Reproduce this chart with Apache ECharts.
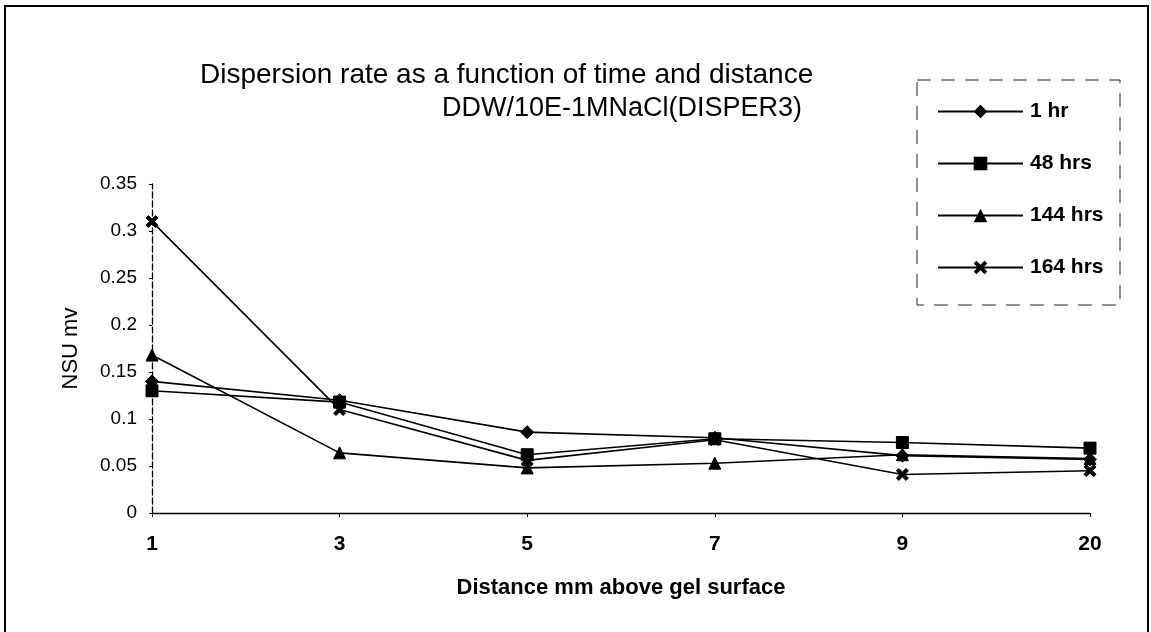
<!DOCTYPE html>
<html>
<head>
<meta charset="utf-8">
<script src="https://cdn.jsdelivr.net/npm/echarts@6/dist/echarts.min.js"></script>
<style>
  html, body { margin: 0; padding: 0; background: #fff; }
  #chart { width: 1151px; height: 632px; }
</style>
</head>
<body>
<div id="chart"></div>
<script>
// Distance above the gel surface (mm)
const distances = ['1', '3', '5', '7', '9', '20'];

// NSU readings (mv) for each elapsed time
const hr1 = [0.14, 0.12, 0.086, 0.08, 0.061, 0.057];
const hrs48 = [0.13, 0.118, 0.062, 0.079, 0.075, 0.069];
const hrs144 = [0.168, 0.064, 0.048, 0.053, 0.062, 0.058];
const hrs164 = [0.31, 0.11, 0.056, 0.078, 0.041, 0.045];

const seriesNames = ['1 hr', '48 hrs', '144 hrs', '164 hrs'];

const crossSymbol = 'path://M0,2 L2,0 L5,3 L8,0 L10,2 L7,5 L10,8 L8,10 L5,7 L2,10 L0,8 L3,5 Z';

const font = '"Liberation Sans", Arial, sans-serif';
const narrow = '"Liberation Sans Narrow", "Liberation Sans", Arial, sans-serif';

function makeSeries(name, data, symbol, size) {
  return {
    name: name,
    type: 'line',
    data: data,
    symbol: symbol,
    symbolSize: size,
    showAllSymbol: true,
    lineStyle: { color: '#000', width: 1.6 },
    itemStyle: { color: '#000', borderColor: '#000' },
    emphasis: { disabled: true },
    animation: false
  };
}

const chart = echarts.init(document.getElementById('chart'), null, { renderer: 'canvas' });

chart.setOption({
  backgroundColor: '#fff',
  animation: false,
  title: [
    {
      text: 'Dispersion rate as a function of time and distance',
      left: 195,
      top: 56,
      textStyle: { fontFamily: font, fontSize: 28, fontWeight: 'normal', color: '#000' }
    },
    {
      text: 'DDW/10E-1MNaCl(DISPER3)',
      right: 1151 - 807,
      top: 90,
      textStyle: { fontFamily: font, fontSize: 27, fontWeight: 'normal', color: '#000' }
    }
  ],
  legend: {
    orient: 'vertical',
    left: 932,
    top: 96,
    itemWidth: 85,
    itemHeight: 17,
    itemGap: 31,
    data: seriesNames,
    textStyle: { fontFamily: narrow, fontSize: 21, fontWeight: 'bold', color: '#000', padding: [0, 0, 0, 2] },
    selectedMode: false
  },
  grid: { left: 152, right: 61, top: 184, bottom: 119, containLabel: false },
  xAxis: {
    type: 'category',
    data: distances,
    boundaryGap: false,
    name: 'Distance mm above gel surface',
    nameLocation: 'middle',
    nameGap: 64,
    nameTextStyle: { fontFamily: narrow, fontSize: 22, fontWeight: 'bold', color: '#000' },
    axisLine: { lineStyle: { color: '#000', width: 1.3 } },
    axisTick: { show: true, alignWithLabel: true, length: 4, lineStyle: { color: '#000' } },
    axisLabel: { margin: 21, fontFamily: narrow, fontSize: 21, fontWeight: 'bold', color: '#000' },
    splitLine: { show: false }
  },
  yAxis: {
    type: 'value',
    min: 0,
    max: 0.35,
    interval: 0.05,
    name: 'NSU mv',
    nameLocation: 'middle',
    nameGap: 70,
    nameTextStyle: { fontFamily: font, fontSize: 22, color: '#000' },
    axisLine: { show: true, lineStyle: { color: '#000', width: 1.3, type: [6, 3] } },
    axisTick: { show: true, length: 3, lineStyle: { color: '#000' } },
    axisLabel: {
      margin: 15,
      fontFamily: font,
      fontSize: 19,
      color: '#000',
      formatter: function (v) { return v === 0 ? '0' : String(+v.toFixed(2)); }
    },
    splitLine: { show: false }
  },
  graphic: [
    {
      type: 'rect',
      shape: { x: 5, y: 6, width: 1143, height: 640 },
      style: { fill: null, stroke: '#000', lineWidth: 2 },
      silent: true
    },
    {
      type: 'rect',
      shape: { x: 917, y: 80, width: 203, height: 225 },
      style: { fill: null, stroke: '#222', lineWidth: 1, lineDash: [14, 10] },
      silent: true,
      z: -1
    }
  ],
  series: [
    makeSeries(seriesNames[0], hr1, 'diamond', 13),
    makeSeries(seriesNames[1], hrs48, 'rect', 12),
    makeSeries(seriesNames[2], hrs144, 'triangle', 12),
    makeSeries(seriesNames[3], hrs164, crossSymbol, 12)
  ]
});
</script>
</body>
</html>
